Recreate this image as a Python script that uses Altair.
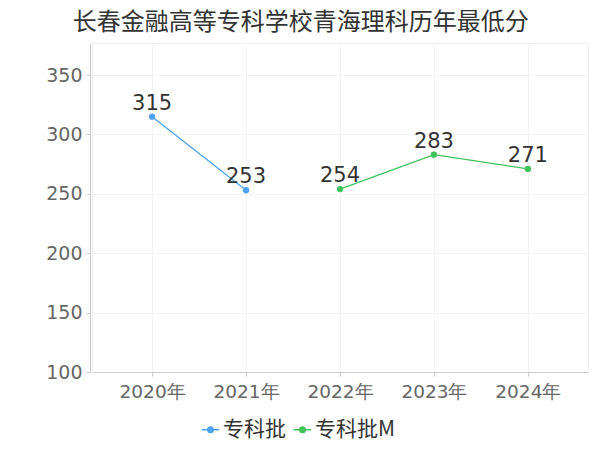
import altair as alt
import pandas as pd

years = ["2020年", "2021年", "2022年", "2023年", "2024年"]
series_names = ["专科批", "专科批M"]
s1_years = ["2020年", "2021年"]
s1_values = [315, 253]
s2_years = ["2022年", "2023年", "2024年"]
s2_values = [254, 283, 271]
colors = ["#4da3f5", "#41c35c"]

rows = []
for y, v in zip(s1_years, s1_values):
    rows.append({"year": y, "score": v, "series": series_names[0]})
for y, v in zip(s2_years, s2_values):
    rows.append({"year": y, "score": v, "series": series_names[1]})
df = pd.DataFrame(rows)

sym = "M-1,0L1,0M-0.32,0A0.32,0.32 0 1,1 0.32,0A0.32,0.32 0 1,1 -0.32,0Z"

x = alt.X("year:N", sort=years, scale=alt.Scale(type="point", padding=0.64, domain=years),
          axis=alt.Axis(title=None, labelAngle=0, labelFontSize=18.5, labelColor="#666666",
                        labelFont="DejaVu Sans", labelPadding=6, tickSize=4, tickColor="#cccccc",
                        domainColor="#cccccc", grid=True, gridColor="#f3f3f3"))
y = alt.Y("score:Q", scale=alt.Scale(domain=[100, 377], nice=False, zero=False),
          axis=alt.Axis(title=None, values=[100, 150, 200, 250, 300, 350], labelFontSize=19,
                        labelColor="#666666", labelFont="DejaVu Sans", labelPadding=4,
                        tickSize=4, tickColor="#cccccc", domainColor="#cccccc", offset=2,
                        grid=True, gridColor="#f3f3f3"))
color = alt.Color("series:N", sort=series_names,
                  scale=alt.Scale(domain=series_names, range=colors),
                  legend=alt.Legend(title=None, orient="none", legendX=108, legendY=376,
                                    direction="horizontal",
                                    labelFontSize=21, labelColor="#333333",
                                    labelFont="Noto Sans CJK SC", symbolType=sym,
                                    symbolSize=300, symbolStrokeWidth=1.5, columnPadding=4,
                                    labelOffset=2))

base = alt.Chart(df)
lines = base.mark_line(strokeWidth=1.3).encode(x=x, y=y, color=color, detail="series:N")
points = base.mark_circle(size=40, opacity=1).encode(x=x, y=y, color=color)
labels = base.mark_text(fontSize=21, color="#333333", dy=-3, baseline="bottom",
                        font="DejaVu Sans").encode(x=x, y=y, text="score:Q")

chart = alt.layer(lines, points, labels).properties(
    width=496, height=329,
    autosize=alt.AutoSizeParams(type="none"),
    padding={"left": 84, "top": 35, "right": 4, "bottom": 78},
    title=alt.TitleParams("长春金融高等专科学校青海理科历年最低分", anchor="start", dx=27,
                          fontSize=24, font="Noto Sans CJK SC", fontWeight="normal",
                          color="#333333", offset=8),
).configure_view(stroke="#f0f0f0")

chart.save("out.html", embed_options={"renderer": "svg", "actions": False})
